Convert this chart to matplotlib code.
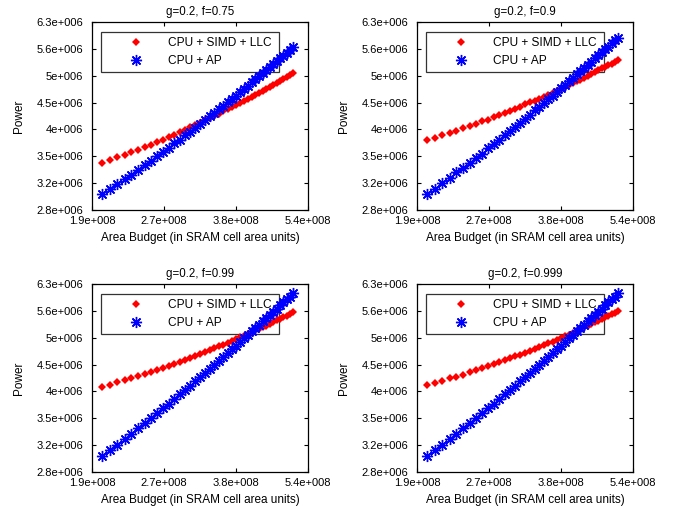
import matplotlib
matplotlib.use('Agg')
import matplotlib.pyplot as plt
from matplotlib.ticker import FixedLocator, NullLocator

plt.rcParams['font.family'] = ['Liberation Sans', 'DejaVu Sans']

# area budget, in units of 1e8 SRAM cells
area = [2.000, 2.075, 2.150, 2.225, 2.300, 2.375, 2.450, 2.525, 2.600, 2.675,
        2.750, 2.825, 2.900, 2.975, 3.050, 3.125, 3.200, 3.275, 3.350, 3.425,
        3.500, 3.575, 3.650, 3.725, 3.800, 3.875, 3.950, 4.025, 4.100, 4.175,
        4.250, 4.325, 4.400, 4.475, 4.550, 4.625, 4.700, 4.775, 4.850, 4.925,
        5.000]

# power, in units of 1e6
simd_f075 = [3.45, 3.49, 3.53, 3.57, 3.61, 3.65, 3.69, 3.73, 3.77, 3.81,
             3.85, 3.89, 3.93, 3.97, 4.02, 4.06, 4.10, 4.14, 4.18, 4.22,
             4.26, 4.30, 4.34, 4.38, 4.42, 4.46, 4.50, 4.54, 4.58, 4.62,
             4.66, 4.70, 4.74, 4.78, 4.82, 4.86, 4.90, 4.94, 4.98, 5.02,
             5.06]
ap_f075 = [3.02, 3.09, 3.15, 3.22, 3.28, 3.35, 3.42, 3.48, 3.55, 3.61,
           3.68, 3.75, 3.81, 3.88, 3.94, 4.01, 4.08, 4.14, 4.21, 4.27,
           4.34, 4.41, 4.47, 4.54, 4.60, 4.67, 4.74, 4.80, 4.87, 4.94,
           5.00, 5.07, 5.13, 5.20, 5.27, 5.33, 5.40, 5.46, 5.53, 5.60,
           5.66]

simd_f09 = [3.81, 3.84, 3.88, 3.92, 3.96, 4.00, 4.04, 4.08, 4.12, 4.15,
            4.19, 4.23, 4.27, 4.31, 4.35, 4.39, 4.43, 4.47, 4.50, 4.54,
            4.58, 4.62, 4.66, 4.70, 4.74, 4.78, 4.82, 4.85, 4.89, 4.93,
            4.97, 5.01, 5.05, 5.09, 5.13, 5.17, 5.20, 5.24, 5.28, 5.32,
            5.36]
ap_f09 = [3.02, 3.09, 3.16, 3.23, 3.31, 3.38, 3.45, 3.52, 3.59, 3.67,
          3.74, 3.81, 3.88, 3.96, 4.03, 4.10, 4.17, 4.24, 4.32, 4.39,
          4.46, 4.53, 4.60, 4.68, 4.75, 4.82, 4.89, 4.96, 5.04, 5.11,
          5.18, 5.25, 5.32, 5.40, 5.47, 5.54, 5.61, 5.68, 5.76, 5.83,
          5.90]

simd_f099 = [4.06, 4.10, 4.14, 4.18, 4.21, 4.25, 4.29, 4.33, 4.37, 4.40,
             4.44, 4.48, 4.52, 4.56, 4.60, 4.63, 4.67, 4.71, 4.75, 4.79,
             4.83, 4.86, 4.90, 4.94, 4.98, 5.02, 5.05, 5.09, 5.13, 5.17,
             5.21, 5.25, 5.28, 5.32, 5.36, 5.40, 5.44, 5.48, 5.51, 5.55,
             5.59]
ap_f099 = [3.02, 3.10, 3.17, 3.25, 3.32, 3.40, 3.48, 3.55, 3.63, 3.70,
           3.78, 3.86, 3.93, 4.01, 4.08, 4.16, 4.24, 4.31, 4.39, 4.46,
           4.54, 4.62, 4.69, 4.77, 4.84, 4.92, 5.00, 5.07, 5.15, 5.22,
           5.30, 5.38, 5.45, 5.53, 5.60, 5.68, 5.76, 5.83, 5.91, 5.98,
           6.06]

simd_f0999 = [4.09, 4.13, 4.17, 4.21, 4.24, 4.28, 4.32, 4.36, 4.40, 4.43,
              4.47, 4.51, 4.55, 4.59, 4.63, 4.66, 4.70, 4.74, 4.78, 4.82,
              4.86, 4.89, 4.93, 4.97, 5.01, 5.05, 5.08, 5.12, 5.16, 5.20,
              5.24, 5.28, 5.31, 5.35, 5.39, 5.43, 5.47, 5.51, 5.54, 5.58,
              5.62]
ap_f0999 = [3.02, 3.10, 3.17, 3.25, 3.32, 3.40, 3.48, 3.55, 3.63, 3.70,
            3.78, 3.86, 3.93, 4.01, 4.08, 4.16, 4.24, 4.31, 4.39, 4.46,
            4.54, 4.62, 4.69, 4.77, 4.84, 4.92, 5.00, 5.07, 5.15, 5.22,
            5.30, 5.38, 5.45, 5.53, 5.60, 5.68, 5.76, 5.83, 5.91, 5.98,
            6.06]

titles = ['g=0.2, f=0.75', 'g=0.2, f=0.9', 'g=0.2, f=0.99', 'g=0.2, f=0.999']
simd_series = [simd_f075, simd_f09, simd_f099, simd_f0999]
ap_series = [ap_f075, ap_f09, ap_f099, ap_f0999]

x_ticks = [1.905e8, 2.692e8, 3.802e8, 5.370e8]
x_labels = ['1.9e+008', '2.7e+008', '3.8e+008', '5.4e+008']
y_ticks = [2.818e6, 3.162e6, 3.548e6, 3.981e6, 4.467e6, 5.012e6, 5.623e6, 6.310e6]
y_labels = ['2.8e+006', '3.2e+006', '3.5e+006', '4e+006', '4.5e+006',
            '5e+006', '5.6e+006', '6.3e+006']

fig = plt.figure(figsize=(6.76, 5.08), dpi=100)
W, H = 676.0, 508.0
# panel boxes in pixels: left, top
boxes = [(92.3, 22), (417.3, 22), (92.3, 284), (417.3, 284)]
aw, ah = 215.5, 188

x_vals = [a * 1e8 for a in area]

for i, (left, top) in enumerate(boxes):
    ax = fig.add_axes([left / W, 1 - (top + ah) / H, aw / W, ah / H])
    ax.set_xscale('log')
    ax.set_yscale('log')

    simd = [v * 1e6 for v in simd_series[i]]
    ap = [v * 1e6 for v in ap_series[i]]

    ax.plot(x_vals, simd, linestyle='none', marker='D', markersize=4.0,
            color='#ff0000', markeredgewidth=0, label='CPU + SIMD + LLC', zorder=3)
    ax.plot(x_vals, ap, '-', drawstyle='steps-mid', color='#0000ff', linewidth=0.8,
            zorder=3)
    ax.plot(x_vals, ap, linestyle='none', marker=(8, 2, 0), markersize=8,
            markeredgewidth=1.0, color='#0000ff', label='CPU + AP', zorder=3)

    ax.set_xlim(x_ticks[0], x_ticks[-1])
    ax.set_ylim(y_ticks[0], y_ticks[-1])
    ax.xaxis.set_major_locator(FixedLocator(x_ticks))
    ax.yaxis.set_major_locator(FixedLocator(y_ticks))
    ax.xaxis.set_minor_locator(NullLocator())
    ax.yaxis.set_minor_locator(NullLocator())
    ax.set_xticklabels(x_labels)
    ax.set_yticklabels(y_labels)
    ax.tick_params(direction='in', length=3, width=0.8, top=True, right=True,
                   labelsize=8)
    ax.tick_params(axis='y', pad=6.5)
    ax.tick_params(axis='x', pad=4.5)
    for sp in ax.spines.values():
        sp.set_linewidth(0.9)

    ax.set_title(titles[i], fontsize=8.3, pad=5)
    ax.set_ylabel('Power', fontsize=8.5)
    ax.yaxis.set_label_coords(-0.31, 0.5)
    ax.set_xlabel('Area Budget (in SRAM cell area units)', fontsize=8.5)
    ax.xaxis.set_label_coords(0.5, -0.115)

    leg = ax.legend(loc='upper left', bbox_to_anchor=(0.04, 0.745, 0.825, 0.2),
                    mode='expand', fontsize=8.6, frameon=True, fancybox=False,
                    borderpad=0.4, handlelength=5.0, handletextpad=0.2,
                    labelspacing=0.5, borderaxespad=0)
    leg.get_frame().set_edgecolor('black')
    leg.get_frame().set_linewidth(0.9)
    # data markers sit on top of the legend box, as in the original
    leg.set_zorder(2)

fig.savefig('out.png', dpi=100)
